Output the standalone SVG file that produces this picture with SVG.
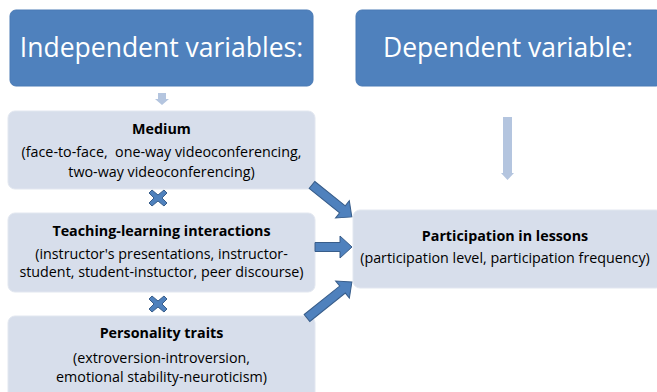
<svg xmlns="http://www.w3.org/2000/svg" width="657" height="392" viewBox="0 0 657 392">
<style>
.hdr{fill:#4F81BD;stroke:#4A7AB5;stroke-width:1}
.box{fill:#D7DEEB;stroke:#E2E7F0;stroke-width:1}
.ht{font-family:"Open Sans","Liberation Sans",sans-serif;font-size:26.5px;fill:#FFFFFF;text-anchor:middle}
.t{font-family:"Open Sans","Liberation Sans",sans-serif;font-size:14.3px;fill:#000;text-anchor:middle}
.b{font-weight:bold}
.ba{fill:#4F81BD;stroke:#385D8A;stroke-width:1}
.la{fill:#B4C5DF}
</style>
<rect width="657" height="392" fill="#FFFFFF"/>
<g id="independent">
<rect class="hdr" x="10" y="10" width="303" height="76" rx="6"/>
<text class="ht" x="161.5" y="57">Independent variables:</text>
</g>
<g id="dependent">
<rect class="hdr" x="356" y="10" width="306" height="76" rx="6"/>
<text class="ht" x="508" y="57">Dependent variable:</text>
</g>
<g id="medium">
<rect class="box" x="8" y="111" width="307" height="78" rx="7"/>
<text class="t b" x="161.5" y="134">Medium</text>
<text class="t" x="161.5" y="157" xml:space="preserve">(face-to-face,  one-way videoconferencing,</text>
<text class="t" x="161.5" y="177">two-way videoconferencing)</text>
</g>
<g id="teaching">
<rect class="box" x="8" y="213" width="307" height="79" rx="7"/>
<text class="t b" x="161.5" y="236">Teaching-learning interactions</text>
<text class="t" x="161.5" y="259">(instructor's presentations, instructor-</text>
<text class="t" x="161.5" y="277">student, student-instuctor, peer discourse)</text>
</g>
<g id="personality">
<rect class="box" x="8" y="316" width="307" height="86" rx="7"/>
<text class="t b" x="161.5" y="338">Personality traits</text>
<text class="t" x="161.5" y="363">(extroversion-introversion,</text>
<text class="t" x="161.5" y="382">emotional stability-neuroticism)</text>
</g>
<g id="participation">
<rect class="box" x="353" y="210" width="310" height="78" rx="7"/>
<text class="t b" x="505" y="241">Participation in lessons</text>
<text class="t" x="505" y="263">(participation level, participation frequency)</text>
</g>
<g id="connectors">
<polygon class="la" points="158,93 166,93 166,99 169,99 162,105 155,99 158,99"/>
<polygon class="la" points="503,117 512,117 512,173 514,173 507.5,180 501,173 503,173"/>
<polygon class="ba" transform="translate(312,185) rotate(38.7)" points="0,-4.5 39,-4.5 39,-11 51,0 39,11 39,4.5 0,4.5"/>
<polygon class="ba" transform="translate(315,247)" points="0,-4.5 25,-4.5 25,-11 37,0 25,11 25,4.5 0,4.5"/>
<polygon class="ba" transform="translate(307,318) rotate(-38.7)" points="0,-4.5 45.5,-4.5 45.5,-11 57.5,0 45.5,11 45.5,4.5 0,4.5"/>
<g class="ba">
<polygon transform="translate(158,198)" points="-6,-8 0,-3 6,-8 9,-5 4,0 9,5 6,8 0,3 -6,8 -9,5 -4,0 -9,-5"/>
<polygon transform="translate(158,304)" points="-6,-8 0,-3 6,-8 9,-5 4,0 9,5 6,8 0,3 -6,8 -9,5 -4,0 -9,-5"/>
</g>
</g>
</svg>
